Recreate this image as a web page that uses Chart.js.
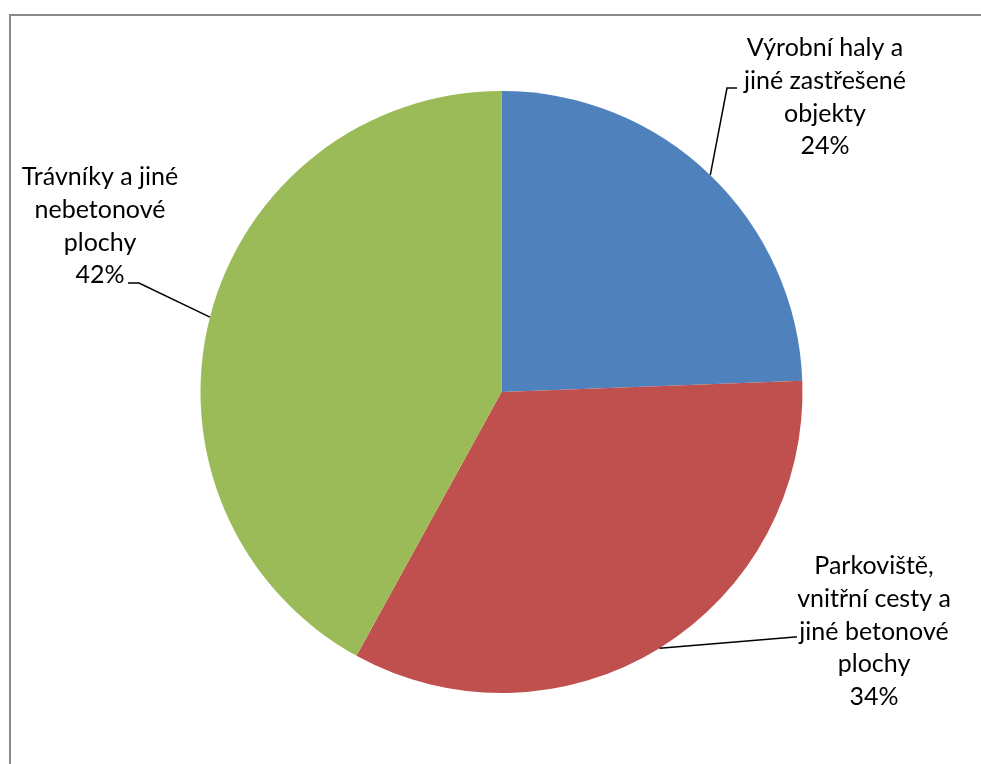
<!DOCTYPE html>
<html>
<head>
<meta charset="utf-8">
<script src="https://cdn.jsdelivr.net/npm/chart.js@4/dist/chart.umd.min.js"></script>
<style>
  html, body { margin: 0; padding: 0; background: #fff; }
  #wrap { position: relative; width: 981px; height: 764px; }
</style>
</head>
<body>
<div id="wrap"><canvas id="pieChart" width="981" height="764"></canvas></div>
<script>
// Chart data
const categories = [
    ['Výrobní haly a', 'jiné zastřešené', 'objekty'],
    ['Parkoviště,', 'vnitřní cesty a', 'jiné betonové', 'plochy'],
    ['Trávníky a jiné', 'nebetonové', 'plochy']
];
const shares = [24.4, 33.6, 42.0];
const sliceColors = ['#4F81BD', '#C0504D', '#9BBB59'];

// where the label blocks sit (center x, first line y) and where the leader line meets them
const labelPlaces = [
    { x: 825, y: 48, joinX: 737, joinY: 88, elbowX: 727 },
    { x: 874, y: 566, joinX: 797, joinY: 637, elbowX: 795 },
    { x: 100, y: 177, joinX: 128, joinY: 283, elbowX: 139 }
];

const frameAndLabels = {
    id: 'frameAndLabels',
    beforeDraw(chart) {
        const ctx = chart.ctx;
        ctx.save();
        ctx.strokeStyle = '#898989';
        ctx.lineWidth = 2;
        ctx.beginPath();
        ctx.moveTo(10, 800);
        ctx.lineTo(10, 15);
        ctx.lineTo(1000, 15);
        ctx.stroke();
        ctx.restore();
    },
    afterDraw(chart) {
        const ctx = chart.ctx;
        const arcs = chart.getDatasetMeta(0).data;
        const total = shares.reduce(function(a, b) { return a + b; }, 0);
        ctx.save();
        ctx.font = '25px Lato, "Open Sans", sans-serif';
        ctx.fillStyle = '#000';
        ctx.textAlign = 'center';
        ctx.textBaseline = 'middle';
        arcs.forEach(function(arc, i) {
            const place = labelPlaces[i];
            const mid = (arc.startAngle + arc.endAngle) / 2;
            const ax = arc.x + Math.cos(mid) * arc.outerRadius;
            const ay = arc.y + Math.sin(mid) * arc.outerRadius;

            // leader line
            ctx.strokeStyle = '#000';
            ctx.lineWidth = 1.5;
            ctx.beginPath();
            ctx.moveTo(ax, ay);
            ctx.lineTo(place.elbowX, place.joinY);
            ctx.lineTo(place.joinX, place.joinY);
            ctx.stroke();

            const pct = Math.round(shares[i] / total * 100) + '%';
            const lines = categories[i].concat([pct]);
            lines.forEach(function(text, k) {
                ctx.fillText(text, place.x, place.y + k * 32.8);
            });
        });
        ctx.restore();
    }
};

new Chart(document.getElementById('pieChart').getContext('2d'), {
    type: 'pie',
    data: {
        labels: categories.map(function(c) { return c.join(' '); }),
        datasets: [{
            data: shares,
            backgroundColor: sliceColors,
            borderWidth: 0
        }]
    },
    options: {
        responsive: false,
        animation: false,
        layout: {
            padding: { top: 91, bottom: 71, left: 200, right: 178 }
        },
        plugins: {
            legend: { display: false },
            tooltip: { enabled: false }
        }
    },
    plugins: [frameAndLabels]
});
</script>
</body>
</html>
